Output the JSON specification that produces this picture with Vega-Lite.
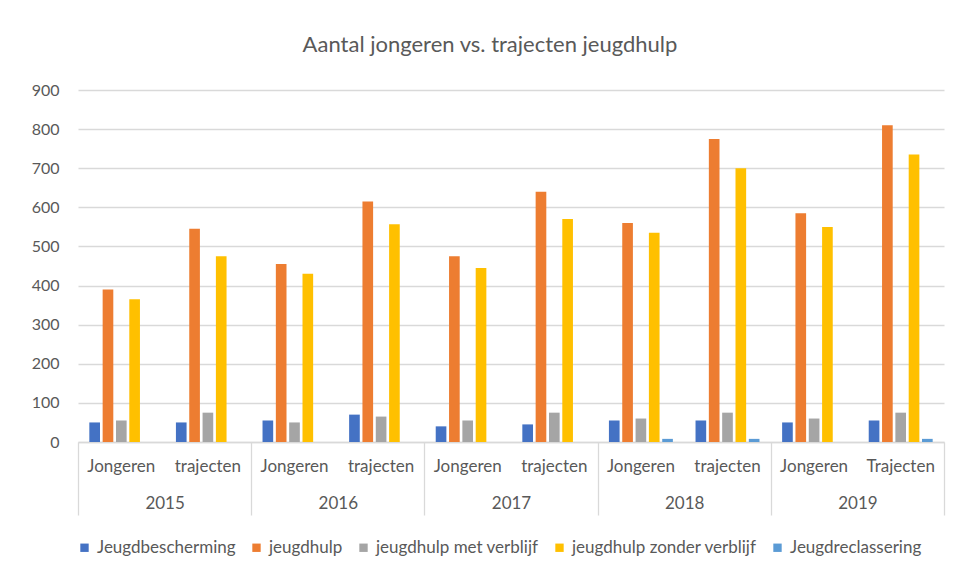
{
  "$schema": "https://vega.github.io/schema/vega-lite/v6.json",
  "width": 866,
  "height": 352,
  "autosize": "none",
  "padding": {"left": 78, "top": 90, "right": 25, "bottom": 136},
  "background": "white",
  "title": {
    "text": "Aantal jongeren vs. trajecten jeugdhulp",
    "font": "Lato",
    "fontSize": 22,
    "fontWeight": "normal",
    "color": "#595959",
    "anchor": "middle",
    "dx": -21,
    "offset": 25
  },
  "data": {
    "values": [
      {"cat": "2015|Jongeren", "year": "2015", "series": "Jeugdbescherming", "value": 50},
      {"cat": "2015|Jongeren", "year": "2015", "series": "jeugdhulp", "value": 390},
      {"cat": "2015|Jongeren", "year": "2015", "series": "jeugdhulp met verblijf", "value": 55},
      {"cat": "2015|Jongeren", "year": "2015", "series": "jeugdhulp zonder verblijf", "value": 365},
      {"cat": "2015|trajecten", "year": "2015", "series": "Jeugdbescherming", "value": 50},
      {"cat": "2015|trajecten", "year": "2015", "series": "jeugdhulp", "value": 545},
      {"cat": "2015|trajecten", "year": "2015", "series": "jeugdhulp met verblijf", "value": 75},
      {"cat": "2015|trajecten", "year": "2015", "series": "jeugdhulp zonder verblijf", "value": 475},
      {"cat": "2016|Jongeren", "year": "2016", "series": "Jeugdbescherming", "value": 55},
      {"cat": "2016|Jongeren", "year": "2016", "series": "jeugdhulp", "value": 455},
      {"cat": "2016|Jongeren", "year": "2016", "series": "jeugdhulp met verblijf", "value": 50},
      {"cat": "2016|Jongeren", "year": "2016", "series": "jeugdhulp zonder verblijf", "value": 430},
      {"cat": "2016|trajecten", "year": "2016", "series": "Jeugdbescherming", "value": 70},
      {"cat": "2016|trajecten", "year": "2016", "series": "jeugdhulp", "value": 615},
      {"cat": "2016|trajecten", "year": "2016", "series": "jeugdhulp met verblijf", "value": 65},
      {"cat": "2016|trajecten", "year": "2016", "series": "jeugdhulp zonder verblijf", "value": 557},
      {"cat": "2017|Jongeren", "year": "2017", "series": "Jeugdbescherming", "value": 40},
      {"cat": "2017|Jongeren", "year": "2017", "series": "jeugdhulp", "value": 475},
      {"cat": "2017|Jongeren", "year": "2017", "series": "jeugdhulp met verblijf", "value": 55},
      {"cat": "2017|Jongeren", "year": "2017", "series": "jeugdhulp zonder verblijf", "value": 445},
      {"cat": "2017|trajecten", "year": "2017", "series": "Jeugdbescherming", "value": 45},
      {"cat": "2017|trajecten", "year": "2017", "series": "jeugdhulp", "value": 640},
      {"cat": "2017|trajecten", "year": "2017", "series": "jeugdhulp met verblijf", "value": 75},
      {"cat": "2017|trajecten", "year": "2017", "series": "jeugdhulp zonder verblijf", "value": 570},
      {"cat": "2018|Jongeren", "year": "2018", "series": "Jeugdbescherming", "value": 55},
      {"cat": "2018|Jongeren", "year": "2018", "series": "jeugdhulp", "value": 560},
      {"cat": "2018|Jongeren", "year": "2018", "series": "jeugdhulp met verblijf", "value": 60},
      {"cat": "2018|Jongeren", "year": "2018", "series": "jeugdhulp zonder verblijf", "value": 535},
      {"cat": "2018|Jongeren", "year": "2018", "series": "Jeugdreclassering", "value": 8},
      {"cat": "2018|trajecten", "year": "2018", "series": "Jeugdbescherming", "value": 55},
      {"cat": "2018|trajecten", "year": "2018", "series": "jeugdhulp", "value": 775},
      {"cat": "2018|trajecten", "year": "2018", "series": "jeugdhulp met verblijf", "value": 75},
      {"cat": "2018|trajecten", "year": "2018", "series": "jeugdhulp zonder verblijf", "value": 700},
      {"cat": "2018|trajecten", "year": "2018", "series": "Jeugdreclassering", "value": 8},
      {"cat": "2019|Jongeren", "year": "2019", "series": "Jeugdbescherming", "value": 50},
      {"cat": "2019|Jongeren", "year": "2019", "series": "jeugdhulp", "value": 585},
      {"cat": "2019|Jongeren", "year": "2019", "series": "jeugdhulp met verblijf", "value": 60},
      {"cat": "2019|Jongeren", "year": "2019", "series": "jeugdhulp zonder verblijf", "value": 550},
      {"cat": "2019|Trajecten", "year": "2019", "series": "Jeugdbescherming", "value": 55},
      {"cat": "2019|Trajecten", "year": "2019", "series": "jeugdhulp", "value": 810},
      {"cat": "2019|Trajecten", "year": "2019", "series": "jeugdhulp met verblijf", "value": 75},
      {"cat": "2019|Trajecten", "year": "2019", "series": "jeugdhulp zonder verblijf", "value": 735},
      {"cat": "2019|Trajecten", "year": "2019", "series": "Jeugdreclassering", "value": 8}
    ]
  },
  "encoding": {
    "y": {
      "field": "value",
      "type": "quantitative",
      "scale": {"domain": [0, 900], "nice": false},
      "axis": {
        "title": null,
        "values": [0, 100, 200, 300, 400, 500, 600, 700, 800, 900],
        "domain": false,
        "ticks": false,
        "labelPadding": 19,
        "labelFont": "Lato",
        "labelFontSize": 16,
        "labelColor": "#595959",
        "gridColor": "#d9d9d9",
        "gridWidth": 1.3
      }
    }
  },
  "layer": [
    {
      "mark": {"type": "bar"},
      "encoding": {
        "x": {
          "field": "cat",
          "type": "nominal",
          "sort": null,
          "scale": {"paddingInner": 0, "paddingOuter": 0},
          "axis": {
            "orient": "bottom",
            "title": null,
            "labelExpr": "split(datum.label, '|')[1]",
            "labelAngle": 0,
            "ticks": false,
            "domain": true,
            "domainColor": "#d9d9d9",
            "domainWidth": 1.3,
            "labelPadding": 24,
            "labelBaseline": "middle",
            "labelFont": "Lato",
            "labelFontSize": 17,
            "labelColor": "#595959"
          }
        },
        "xOffset": {
          "field": "series",
          "type": "nominal",
          "scale": {
            "domain": ["Jeugdbescherming", "jeugdhulp", "jeugdhulp met verblijf", "jeugdhulp zonder verblijf", "Jeugdreclassering"],
            "paddingInner": 0.2,
            "paddingOuter": 0.85
          }
        },
        "color": {
          "field": "series",
          "type": "nominal",
          "scale": {
            "domain": ["Jeugdbescherming", "jeugdhulp", "jeugdhulp met verblijf", "jeugdhulp zonder verblijf", "Jeugdreclassering"],
            "range": ["#4472C4", "#ED7D31", "#A5A5A5", "#FFC000", "#5B9BD5"]
          },
          "legend": {
            "title": null,
            "orient": "none",
            "direction": "horizontal",
            "legendX": -2,
            "legendY": 449,
            "symbolType": "square",
            "symbolSize": 70,
            "symbolStrokeWidth": 0,
            "labelOffset": 4,
            "labelLimit": 0,
            "columnPadding": 12,
            "labelFont": "Lato",
            "labelFontSize": 17,
            "labelColor": "#595959"
          }
        }
      }
    },
    {
      "mark": {"type": "tick", "opacity": 0},
      "encoding": {
        "x": {
          "field": "year",
          "type": "nominal",
          "sort": null,
          "scale": {"paddingInner": 0, "paddingOuter": 0},
          "axis": {
            "orient": "bottom",
            "title": null,
            "labelAngle": 0,
            "domain": false,
            "ticks": true,
            "tickBand": "extent",
            "tickSize": 73,
            "tickColor": "#d9d9d9",
            "tickWidth": 1.3,
            "labelPadding": -12,
            "labelBaseline": "middle",
            "labelFont": "Lato",
            "labelFontSize": 17,
            "labelColor": "#595959"
          }
        }
      }
    }
  ],
  "resolve": {"scale": {"x": "independent"}},
  "config": {"view": {"stroke": null}}
}
